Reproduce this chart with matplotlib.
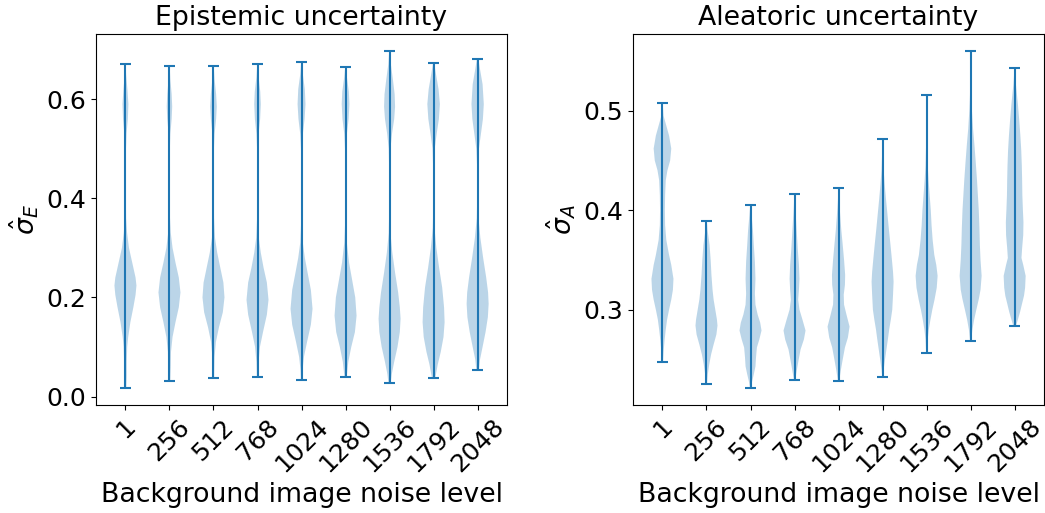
import matplotlib
matplotlib.use("Agg")
import matplotlib.pyplot as plt
import numpy as np

# ------------------ Data ------------------
noise_levels = [1, 256, 512, 768, 1024, 1280, 1536, 1792, 2048]

# Density profiles per noise level: sigma values (top to bottom) and relative density
epi_coords = [
    [0.671, 0.65, 0.62, 0.59, 0.56, 0.53, 0.50, 0.45, 0.40, 0.36, 0.33, 0.30, 0.27, 0.24, 0.224, 0.205, 0.18, 0.15, 0.12, 0.10, 0.07, 0.04, 0.0175],
    [0.667, 0.64, 0.61, 0.585, 0.56, 0.53, 0.50, 0.42, 0.36, 0.33, 0.30, 0.27, 0.24, 0.21, 0.18, 0.15, 0.12, 0.09, 0.06, 0.031],
    [0.667, 0.64, 0.61, 0.585, 0.56, 0.53, 0.50, 0.42, 0.36, 0.32, 0.29, 0.26, 0.23, 0.20, 0.17, 0.14, 0.11, 0.08, 0.037],
    [0.671, 0.645, 0.615, 0.59, 0.56, 0.53, 0.50, 0.42, 0.36, 0.32, 0.29, 0.26, 0.23, 0.195, 0.165, 0.13, 0.10, 0.07, 0.039],
    [0.675, 0.65, 0.62, 0.59, 0.56, 0.53, 0.50, 0.42, 0.35, 0.31, 0.28, 0.25, 0.215, 0.177, 0.145, 0.11, 0.08, 0.055, 0.034],
    [0.665, 0.645, 0.615, 0.59, 0.56, 0.53, 0.50, 0.42, 0.35, 0.31, 0.27, 0.235, 0.20, 0.163, 0.13, 0.10, 0.07, 0.039],
    [0.698, 0.67, 0.64, 0.61, 0.585, 0.56, 0.53, 0.50, 0.45, 0.38, 0.33, 0.29, 0.25, 0.21, 0.18, 0.157, 0.13, 0.10, 0.07, 0.045, 0.027],
    [0.673, 0.65, 0.62, 0.59, 0.56, 0.53, 0.50, 0.46, 0.38, 0.34, 0.30, 0.26, 0.22, 0.18, 0.15, 0.12, 0.09, 0.065, 0.037],
    [0.680, 0.66, 0.63, 0.59, 0.56, 0.53, 0.50, 0.46, 0.40, 0.36, 0.32, 0.28, 0.24, 0.21, 0.187, 0.16, 0.13, 0.10, 0.075, 0.0545],
]
epi_density = [
    [0.02, 0.06, 0.18, 0.27, 0.22, 0.10, 0.05, 0.04, 0.04, 0.06, 0.15, 0.32, 0.62, 0.92, 1.0, 0.92, 0.72, 0.45, 0.25, 0.16, 0.12, 0.12, 0.08],
    [0.02, 0.08, 0.20, 0.25, 0.20, 0.08, 0.04, 0.03, 0.05, 0.12, 0.28, 0.55, 0.85, 1.0, 0.85, 0.55, 0.28, 0.14, 0.12, 0.08],
    [0.02, 0.10, 0.24, 0.30, 0.24, 0.10, 0.04, 0.03, 0.05, 0.14, 0.34, 0.62, 0.90, 1.0, 0.85, 0.50, 0.22, 0.10, 0.06],
    [0.02, 0.10, 0.25, 0.30, 0.24, 0.10, 0.04, 0.03, 0.04, 0.12, 0.30, 0.55, 0.85, 1.0, 0.85, 0.50, 0.22, 0.10, 0.06],
    [0.03, 0.12, 0.30, 0.36, 0.28, 0.12, 0.05, 0.03, 0.04, 0.12, 0.30, 0.55, 0.85, 1.0, 0.85, 0.50, 0.22, 0.10, 0.06],
    [0.03, 0.12, 0.30, 0.35, 0.28, 0.12, 0.05, 0.03, 0.04, 0.12, 0.32, 0.60, 0.88, 1.0, 0.85, 0.52, 0.25, 0.10],
    [0.03, 0.12, 0.30, 0.46, 0.50, 0.42, 0.22, 0.08, 0.03, 0.03, 0.08, 0.25, 0.50, 0.78, 0.93, 1.0, 0.93, 0.72, 0.42, 0.20, 0.10],
    [0.05, 0.22, 0.45, 0.57, 0.48, 0.28, 0.10, 0.04, 0.03, 0.08, 0.25, 0.50, 0.78, 0.95, 1.0, 0.90, 0.65, 0.38, 0.15],
    [0.08, 0.22, 0.45, 0.56, 0.48, 0.30, 0.12, 0.04, 0.04, 0.08, 0.25, 0.50, 0.78, 0.95, 1.0, 0.93, 0.72, 0.45, 0.22, 0.12],
]

ale_coords = [
    [0.5075, 0.495, 0.485, 0.475, 0.462, 0.45, 0.44, 0.43, 0.415, 0.40, 0.385, 0.37, 0.355, 0.345, 0.331, 0.32, 0.31, 0.30, 0.29, 0.28, 0.27, 0.26, 0.247],
    [0.3896, 0.38, 0.365, 0.35, 0.335, 0.32, 0.31, 0.30, 0.29, 0.284, 0.275, 0.265, 0.255, 0.245, 0.235, 0.2255],
    [0.405, 0.395, 0.38, 0.365, 0.348, 0.331, 0.316, 0.305, 0.295, 0.287, 0.279, 0.27, 0.262, 0.252, 0.243, 0.235, 0.228, 0.2214],
    [0.4165, 0.405, 0.39, 0.375, 0.36, 0.345, 0.331, 0.32, 0.31, 0.30, 0.29, 0.279, 0.27, 0.26, 0.25, 0.24, 0.2288],
    [0.4228, 0.41, 0.395, 0.38, 0.365, 0.35, 0.335, 0.325, 0.315, 0.305, 0.295, 0.283, 0.272, 0.262, 0.25, 0.24, 0.2278],
    [0.4716, 0.455, 0.44, 0.425, 0.41, 0.395, 0.38, 0.365, 0.35, 0.338, 0.328, 0.315, 0.30, 0.29, 0.28, 0.27, 0.26, 0.25, 0.24, 0.232],
    [0.5158, 0.49, 0.465, 0.445, 0.43, 0.415, 0.40, 0.385, 0.37, 0.355, 0.345, 0.334, 0.322, 0.31, 0.30, 0.29, 0.28, 0.27, 0.2563],
    [0.5605, 0.54, 0.516, 0.50, 0.482, 0.465, 0.449, 0.43, 0.415, 0.40, 0.382, 0.365, 0.35, 0.334, 0.32, 0.311, 0.30, 0.29, 0.28, 0.268],
    [0.543, 0.535, 0.526, 0.515, 0.506, 0.49, 0.475, 0.46, 0.445, 0.43, 0.415, 0.40, 0.388, 0.375, 0.362, 0.352, 0.345, 0.334, 0.322, 0.314, 0.305, 0.298, 0.291, 0.2835],
]
ale_density = [
    [0.02, 0.10, 0.35, 0.60, 0.80, 0.70, 0.45, 0.30, 0.24, 0.22, 0.24, 0.35, 0.60, 0.80, 1.0, 0.95, 0.80, 0.60, 0.42, 0.30, 0.20, 0.12, 0.05],
    [0.03, 0.10, 0.28, 0.38, 0.45, 0.55, 0.65, 0.80, 0.95, 1.0, 0.90, 0.65, 0.42, 0.25, 0.12, 0.05],
    [0.03, 0.10, 0.22, 0.30, 0.40, 0.45, 0.40, 0.45, 0.65, 0.88, 1.0, 0.80, 0.58, 0.50, 0.45, 0.30, 0.15, 0.05],
    [0.02, 0.06, 0.14, 0.22, 0.30, 0.40, 0.45, 0.40, 0.33, 0.45, 0.72, 1.0, 0.85, 0.55, 0.38, 0.22, 0.05],
    [0.02, 0.06, 0.15, 0.25, 0.38, 0.50, 0.60, 0.58, 0.47, 0.50, 0.72, 1.0, 0.85, 0.58, 0.38, 0.22, 0.05],
    [0.02, 0.05, 0.10, 0.20, 0.32, 0.45, 0.58, 0.72, 0.85, 0.95, 1.0, 0.95, 0.88, 0.75, 0.60, 0.48, 0.35, 0.22, 0.10, 0.03],
    [0.02, 0.03, 0.05, 0.10, 0.18, 0.28, 0.38, 0.45, 0.55, 0.70, 0.88, 1.0, 0.92, 0.72, 0.52, 0.35, 0.20, 0.10, 0.04],
    [0.02, 0.03, 0.06, 0.12, 0.22, 0.35, 0.46, 0.58, 0.66, 0.74, 0.80, 0.84, 0.90, 1.0, 0.90, 0.75, 0.52, 0.32, 0.16, 0.05],
    [0.03, 0.06, 0.12, 0.22, 0.30, 0.42, 0.52, 0.60, 0.65, 0.68, 0.70, 0.75, 0.80, 0.78, 0.68, 0.62, 0.78, 1.0, 0.95, 0.85, 0.65, 0.50, 0.32, 0.12],
]


def build_stats(coords, density):
    stats = []
    for c, d in zip(coords, density):
        c = np.array(c)
        stats.append({
            "coords": c,
            "vals": np.array(d),
            "mean": c.mean(),
            "median": np.median(c),
            "min": c.min(),
            "max": c.max(),
        })
    return stats


# ------------------ Visualization ------------------
plt.rcParams["font.size"] = 18
label_size = 19.3

fig = plt.figure(figsize=(10.45, 5.13), dpi=100)
ax1 = fig.add_axes([0.0916, 0.2111, 0.3939, 0.7232])
ax2 = fig.add_axes([0.6055, 0.2111, 0.3939, 0.7232])

positions = np.arange(1, len(noise_levels) + 1)

ax1.violin(build_stats(epi_coords, epi_density), positions=positions, widths=0.5)
ax1.set_title("Epistemic uncertainty", fontsize=label_size)
ax1.set_ylabel(r"$\hat{\sigma}_E$", fontsize=label_size)
ax1.set_yticks([0.0, 0.2, 0.4, 0.6])

ax2.violin(build_stats(ale_coords, ale_density), positions=positions, widths=0.5)
ax2.set_title("Aleatoric uncertainty", fontsize=label_size)
ax2.set_ylabel(r"$\hat{\sigma}_A$", fontsize=label_size)
ax2.set_yticks([0.3, 0.4, 0.5])

for ax in (ax1, ax2):
    ax.set_xticks(positions)
    ax.set_xticklabels([str(n) for n in noise_levels], rotation=45)
    ax.set_xlabel("Background image noise level", fontsize=label_size)

fig.savefig("out.png", dpi=100)
